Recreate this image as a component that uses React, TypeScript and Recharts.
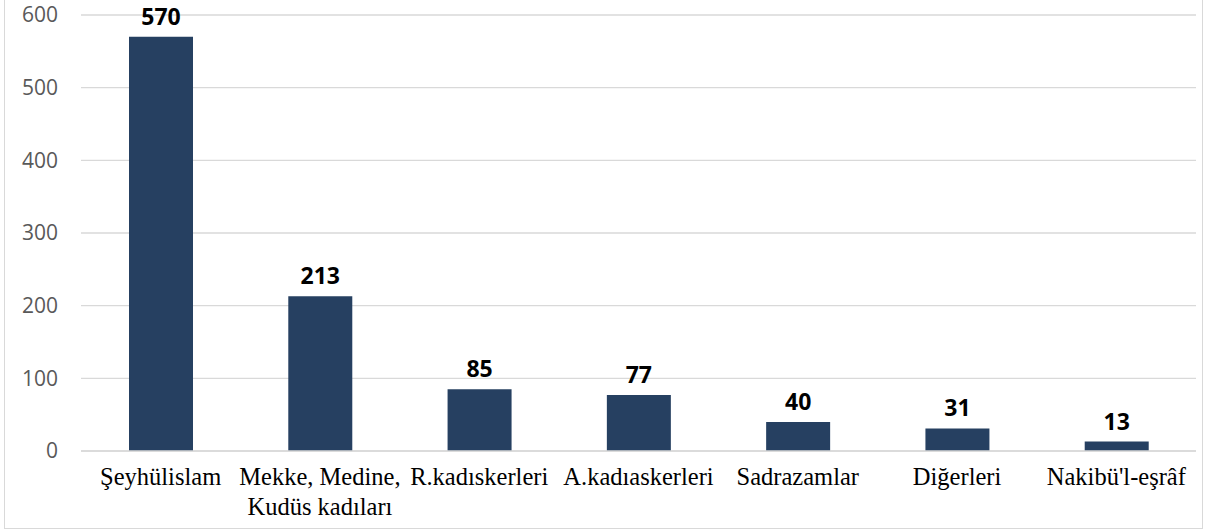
import { BarChart, Bar, XAxis, YAxis, CartesianGrid, LabelList } from "recharts";

// kategori adları (çok satırlı olanlar \n ile bölünür)
const categories = [
  "Şeyhülislam",
  "Mekke, Medine,\nKudüs kadıları",
  "R.kadıskerleri",
  "A.kadıaskerleri",
  "Sadrazamlar",
  "Diğerleri",
  "Nakibü'l-eşrâf",
];

const counts = [570, 213, 85, 77, 40, 31, 13];

const yTicks = [0, 100, 200, 300, 400, 500, 600];

const data = categories.map((name, i) => ({ name, value: counts[i] }));

const BAR_COLOR = "#264061";

function CategoryTick(props: any) {
  const { x, y, payload } = props;
  const lines = String(payload.value).split("\n");
  return (
    <text
      x={x}
      y={y}
      textAnchor="middle"
      fill="#000"
      fontFamily="'Liberation Serif', serif"
      fontSize={24.5}
    >
      {lines.map((line, i) => (
        <tspan key={i} x={x} dy={i === 0 ? 26 : 30}>
          {line}
        </tspan>
      ))}
    </text>
  );
}

export default function App() {
  return (
    <div
      style={{
        position: "fixed",
        left: 0,
        top: 0,
        width: 1206,
        height: 532,
        background: "#fff",
        overflow: "hidden",
      }}
    >
      {/* çerçeve */}
      <div
        style={{
          position: "absolute",
          left: 4,
          top: -2,
          width: 1199,
          height: 531,
          border: "1px solid #d9d9d9",
          boxSizing: "border-box",
        }}
      />
      <BarChart
        width={1206}
        height={532}
        data={data}
        margin={{ top: 15, right: 10, bottom: 0, left: 0 }}
        barCategoryGap={0}
      >
        <CartesianGrid vertical={false} stroke="#d9d9d9" strokeWidth={1.3} />
        <XAxis
          dataKey="name"
          height={81}
          axisLine={{ stroke: "#d9d9d9", strokeWidth: 1.3 }}
          tickLine={false}
          interval={0}
          tick={<CategoryTick />}
        />
        <YAxis
          width={81}
          domain={[0, 600]}
          ticks={yTicks}
          axisLine={false}
          tickLine={false}
          tickSize={0}
          tickMargin={23}
          tick={{ fill: "#595959", fontSize: 21, fontFamily: "'Open Sans', sans-serif" }}
        />
        <Bar dataKey="value" fill={BAR_COLOR} barSize={64} isAnimationActive={false}>
          <LabelList
            dataKey="value"
            position="top"
            offset={12}
            fill="#000"
            fontSize={23}
            fontWeight="bold"
            fontFamily="'Open Sans', sans-serif"
          />
        </Bar>
      </BarChart>
    </div>
  );
}
